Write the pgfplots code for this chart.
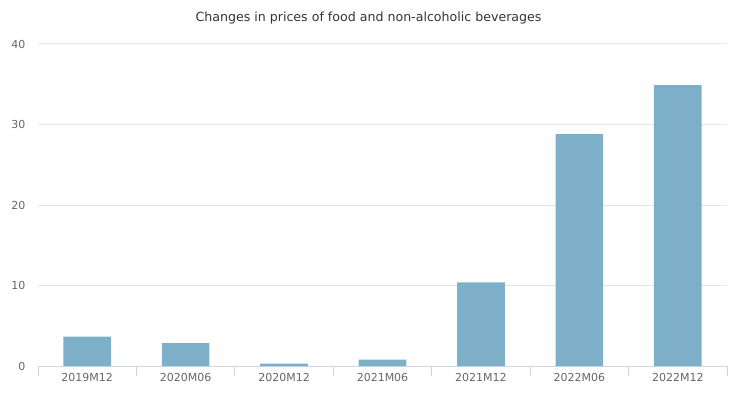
\documentclass[border=0pt]{standalone}
\usepackage{fontspec}
\setmainfont{DejaVu Sans}
\usepackage{pgfplots}
\pgfplotsset{compat=1.18}
\definecolor{barcol}{HTML}{7EAFC8}
\definecolor{gridcol}{HTML}{E6E6E6}
\definecolor{axiscol}{HTML}{CCD6EB}
\definecolor{labcol}{HTML}{666666}
\definecolor{titlecol}{HTML}{333333}
\begin{document}
\begin{tikzpicture}[x=1bp,y=1bp]
\useasboundingbox (0,0) rectangle (737,401);
\node[anchor=center, text=titlecol, font=\fontsize{12.6bp}{15bp}\selectfont] at (368.5,383) {Changes in prices of food and non-alcoholic beverages};
\begin{axis}[
  at={(38bp,35bp)}, anchor=south west,
  scale only axis, width=689bp, height=322bp,
  xmin=-0.5, xmax=6.5, ymin=0, ymax=40,
  axis x line*=bottom, axis y line*=left,
  x axis line style={draw=axiscol, line width=1bp},
  y axis line style={draw=none},
  xtick={0,1,2,3,4,5,6},
  xticklabels={2019M12,2020M06,2020M12,2021M06,2021M12,2022M06,2022M12},
  ytick={0,10,20,30,40},
  major tick length=0pt,
  extra x ticks={-0.5,0.5,1.5,2.5,3.5,4.5,5.5,6.5},
  extra x tick labels={},
  extra x tick style={major tick length=10bp, tick align=outside, tick style={draw=axiscol, line width=1bp}, grid=none},
  ymajorgrids, grid style={draw=gridcol, line width=1bp},
  tick label style={text=labcol, font=\fontsize{11bp}{13bp}\selectfont},
  xticklabel style={yshift=-4bp},
  yticklabel style={xshift=-9bp},
  /pgf/number format/assume math mode=true,
]
\addplot[ybar, bar width=47.7bp, fill=barcol, draw=none] coordinates {
(0,3.64) (1,2.85) (2,0.29) (3,0.78) (4,10.4) (5,28.8) (6,34.9)
};
\end{axis}
\end{tikzpicture}
\end{document}
